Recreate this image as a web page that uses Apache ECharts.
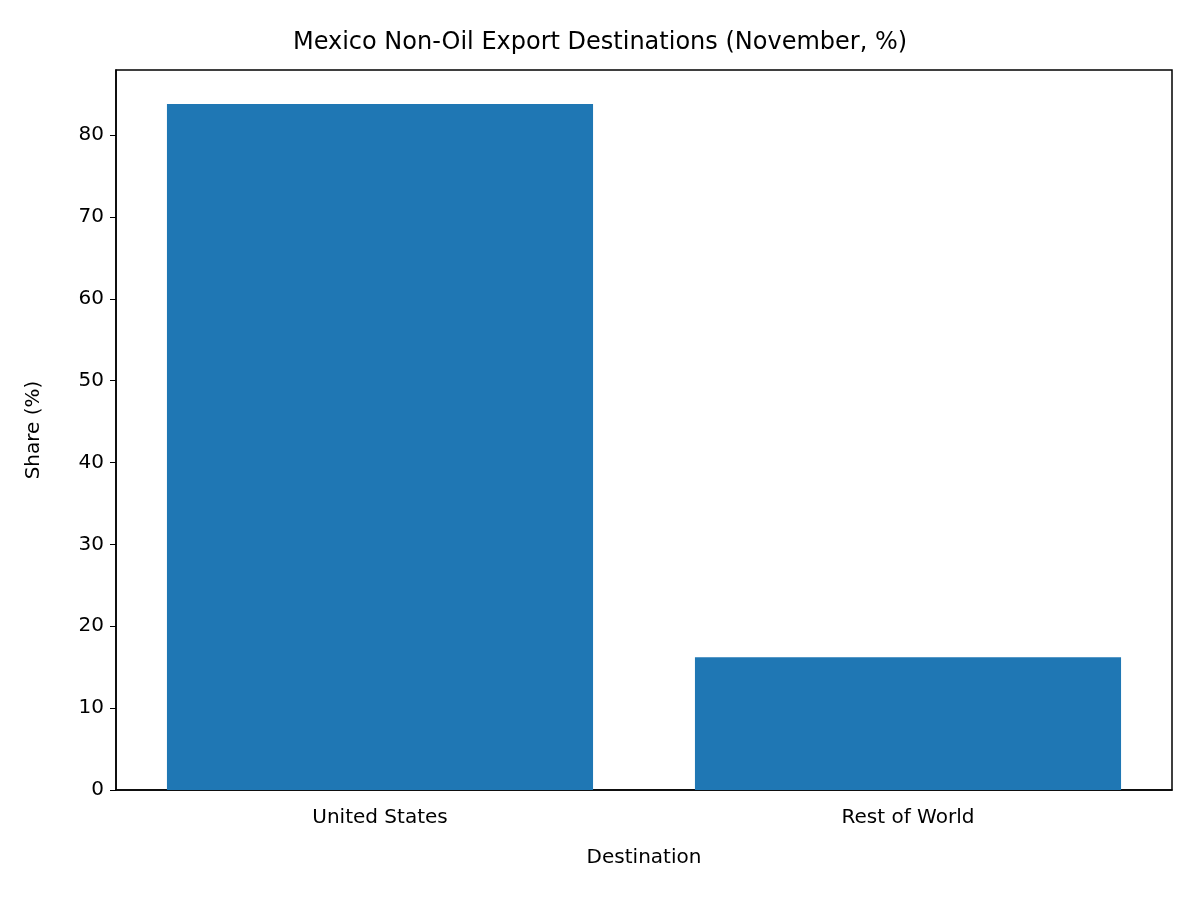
<!DOCTYPE html>
<html>
<head>
<meta charset="utf-8">
<script src="https://cdn.jsdelivr.net/npm/echarts@6/dist/echarts.min.js"></script>
<style>html,body{margin:0;padding:0;background:#fff}#main{width:1200px;height:900px}</style>
</head>
<body>
<div id="main"></div>
<script>
var categories = ['United States', 'Rest of World'];
var shares = [83.8, 16.2];

var chart = echarts.init(document.getElementById('main'));
var font = 'DejaVu Sans';
chart.setOption({
    animation: false,
    title: {
        text: 'Mexico Non-Oil Export Destinations (November, %)',
        left: 'center', top: 26,
        textStyle: { fontFamily: font, fontSize: 24, fontWeight: 'normal', color: '#000' }
    },
    grid: { left: 116, right: 28, top: 70, bottom: 110, show: true, borderColor: '#000', borderWidth: 1.5 },
    xAxis: {
        type: 'category',
        data: categories,
        name: 'Destination',
        nameLocation: 'middle',
        nameGap: 58,
        nameTextStyle: { fontFamily: font, fontSize: 20, color: '#000' },
        axisLine: { lineStyle: { color: '#000', width: 1.5 } },
        axisTick: { alignWithLabel: true, length: 6, lineStyle: { color: '#000' } },
        axisLabel: { fontFamily: font, fontSize: 20, color: '#000', margin: 18 }
    },
    yAxis: {
        type: 'value',
        min: 0, max: 87.94, interval: 10,
        name: 'Share (%)',
        nameLocation: 'middle',
        nameGap: 72,
        nameTextStyle: { fontFamily: font, fontSize: 20, color: '#000' },
        splitLine: { show: false },
        axisLine: { show: true, lineStyle: { color: '#000', width: 1.5 } },
        axisTick: { show: true, length: 6, lineStyle: { color: '#000' } },
        axisLabel: {
            fontFamily: font, fontSize: 20, color: '#000', margin: 12, showMaxLabel: false,
            formatter: function (v) { return v % 10 === 0 ? v : ''; }
        }
    },
    series: [{
        type: 'bar',
        data: shares,
        barWidth: '80.7%',
        itemStyle: { color: '#1f77b4' }
    }]
});
</script>
</body>
</html>
